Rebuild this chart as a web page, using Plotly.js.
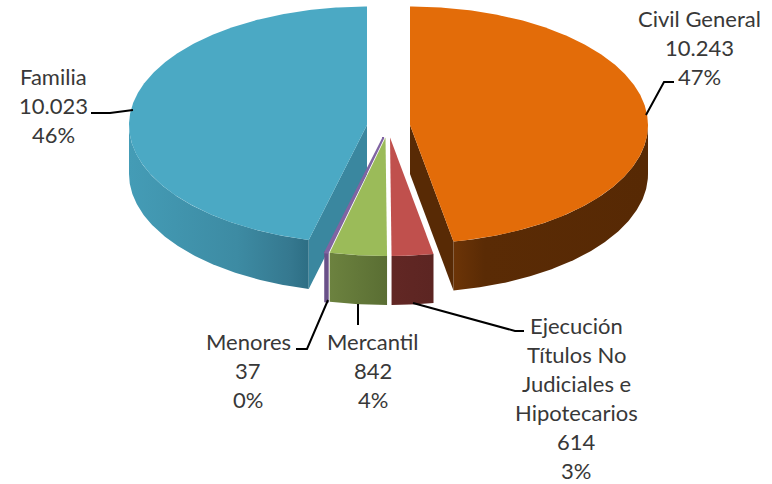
<!DOCTYPE html>
<html>
<head>
<meta charset="utf-8">
<script src="https://cdn.plot.ly/plotly-3.0.1.min.js"></script>
<style>html,body{margin:0;padding:0;background:#fff;overflow:hidden}#chart{width:772px;height:484px}</style>
</head>
<body>
<div id="chart"></div>
<script>
// Data
const categories = ['Civil General', 'Ejecución Títulos No Judiciales e Hipotecarios', 'Mercantil', 'Menores', 'Familia'];
const values = [10243, 614, 842, 37, 10023];
const labelLines = [['Civil General'], ['Ejecución', 'Títulos No', 'Judiciales e', 'Hipotecarios'], ['Mercantil'], ['Menores'], ['Familia']];

// Colours
const topColors = ['#E36C09', '#C0504D', '#9BBB59', '#8064A2', '#4BA9C4'];
const cutColors = ['#582A05', null, null, null, '#3A879F'];
const wallScales = [
  [[0, '#6C3407'], [0.16, '#5A2B05'], [1, '#572904']],
  [[0, '#622724'], [1, '#5C2522']],
  [[0, '#6C823F'], [1, '#5A6E33']],
  [[0, '#6F5590'], [1, '#654F83']],
  [[0, '#449CB6'], [0.6, '#3D8BA3'], [0.9, '#35788F'], [1, '#2D6E84']]
];

// Pie geometry in the hidden pixel-like axes
const centers = [[410, 125], [390, 137.5], [385.5, 137.5], [383.5, 137.5], [367, 125]];
const RX = 238, RY = 118.5, DEPTH = 49;
const total = values.reduce((a, b) => a + b, 0);

let cum = 0;
const spans = values.map(v => { const s = [cum, cum + v]; cum += v; return s.map(c => c / total * 360); });

function rim(c, a0, a1, dy) {
  const n = Math.max(2, Math.ceil(Math.abs(a1 - a0) * 2));
  const xs = [], ys = [];
  for (let i = 0; i <= n; i++) {
    const t = (a0 + (a1 - a0) * i / n) * Math.PI / 180;
    xs.push(c[0] + RX * Math.sin(t));
    ys.push(c[1] - RY * Math.cos(t) + dy);
  }
  return [xs, ys];
}
function poly(xs, ys, extra) {
  return Object.assign({
    x: xs.concat(xs[0]), y: ys.concat(ys[0]), type: 'scatter', mode: 'lines',
    fill: 'toself', line: {width: 0}, hoverinfo: 'skip', showlegend: false
  }, extra);
}

const traces = [];
// Back to front: Familia, Civil General, then the small pulled slices
[4, 0, 3, 2, 1].forEach(i => {
  const c = centers[i], a0 = spans[i][0], a1 = spans[i][1];
  const thin = i === 3;
  // outer wall, only the part of the rim facing the viewer
  const v0 = Math.max(a0, 90), v1 = Math.min(a1, 270);
  if (v1 > v0) {
    const up = rim(c, v0, v1, 0), dn = rim(c, v1, v0, DEPTH);
    traces.push(poly(up[0].concat(dn[0]), up[1].concat(dn[1]), {
      fillgradient: {type: 'horizontal', colorscale: wallScales[i]},
      line: {width: thin ? 2 : 0, color: '#6A5189'},
      name: categories[i] + ' wall'
    }));
  }
  // radial cut wall
  if (cutColors[i]) {
    const edge = i === 0 ? a1 : a0;
    const p = rim(c, edge, edge, 0);
    traces.push(poly([c[0], p[0][0], p[0][0], c[0]], [c[1], p[1][0], p[1][0] + DEPTH, c[1] + DEPTH], {
      fillcolor: cutColors[i], name: categories[i] + ' cut'
    }));
  }
  // top face
  const t = rim(c, a0, a1, 0);
  traces.push(poly([c[0]].concat(t[0]), [c[1]].concat(t[1]), {
    fillcolor: topColors[i], name: categories[i],
    line: {width: thin ? 2 : 0, color: topColors[i]}
  }));
});

// Leader lines
const leaders = [
  [[646, 664, 674], [115, 82, 82]],
  [[413, 515, 524], [303, 331, 331]],
  [[358, 358], [304, 325]],
  [[328, 307, 296], [300, 349, 349]],
  [[133, 110, 91], [110, 113, 113]]
];
leaders.forEach(l => traces.push({
  x: l[0], y: l[1], type: 'scatter', mode: 'lines',
  line: {color: '#000', width: 2}, hoverinfo: 'skip', showlegend: false
}));

// Data labels, one annotation per line
const labelPos = [[699, 18], [576, 325], [373, 341], [248, 341], [53, 76]];
const LINE = 29;
const fmt = v => String(v).replace(/\B(?=(\d{3})+$)/g, '.');
const annotations = [];
values.forEach((v, i) => {
  const lines = labelLines[i].concat([fmt(v), Math.round(v / total * 100) + '%']);
  lines.forEach((txt, k) => annotations.push({
    x: labelPos[i][0], y: labelPos[i][1] + k * LINE, xref: 'x', yref: 'y',
    text: txt, showarrow: false, xanchor: 'center', yanchor: 'middle',
    font: {family: 'Lato, Carlito, sans-serif', size: 22, color: '#383838'}
  }));
});

Plotly.newPlot('chart', traces, {
  width: 772, height: 484,
  margin: {l: 0, r: 0, t: 0, b: 0},
  paper_bgcolor: '#fff', plot_bgcolor: '#fff',
  showlegend: false,
  xaxis: {visible: false, range: [0, 772], fixedrange: true},
  yaxis: {visible: false, range: [484, 0], fixedrange: true},
  annotations: annotations
}, {displayModeBar: false, staticPlot: true});
</script>
</body>
</html>
